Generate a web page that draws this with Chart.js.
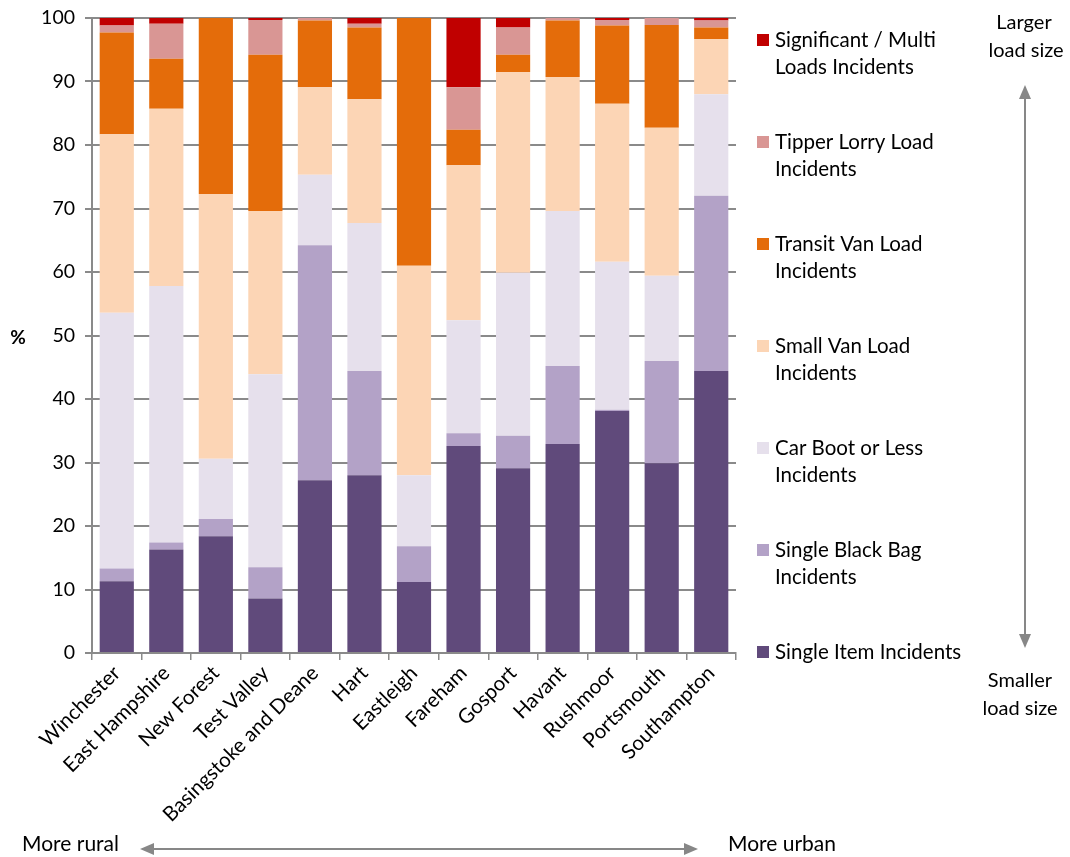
<!DOCTYPE html>
<html>
<head>
<meta charset="utf-8">
<script src="https://cdn.jsdelivr.net/npm/chart.js@4/dist/chart.umd.min.js"></script>
<style>
  html, body { margin: 0; padding: 0; background: #ffffff; }
  #wrap { width: 1070px; height: 857px; }
</style>
</head>
<body>
<div id="wrap"><canvas id="c" width="1070" height="857"></canvas></div>
<script>
// Fly-tipping incidents by load size, share of each district's total (%)
const districts = ['Winchester', 'East Hampshire', 'New Forest', 'Test Valley', 'Basingstoke and Deane',
  'Hart', 'Eastleigh', 'Fareham', 'Gosport', 'Havant', 'Rushmoor', 'Portsmouth', 'Southampton'];

const singleItem     = [11.3, 16.3, 18.4,  8.6, 27.2, 28.0, 11.2, 32.6, 29.1, 32.9, 38.1, 29.9, 44.4];
const singleBlackBag = [ 2.0,  1.1,  2.7,  4.9, 37.0, 16.4,  5.6,  2.0,  5.1, 12.3,  0.2, 16.1, 27.6];
const carBootOrLess  = [40.3, 40.4,  9.5, 30.4, 11.1, 23.3, 11.2, 17.8, 25.7, 24.4, 23.3, 13.4, 16.0];
const smallVanLoad   = [28.1, 27.9, 41.7, 25.7, 13.8, 19.5, 33.0, 24.4, 31.6, 21.1, 24.9, 23.3,  8.7];
const transitVanLoad = [16.0,  7.9, 27.7, 24.6, 10.5, 11.3, 39.0,  5.6,  2.7,  8.9, 12.3, 16.2,  1.8];
const tipperLorry    = [ 1.1,  5.5,  0.0,  5.5,  0.4,  0.6,  0.0,  6.7,  4.3,  0.4,  0.9,  1.1,  1.1];
const significant    = [ 1.2,  0.9,  0.0,  0.3,  0.0,  0.9,  0.0, 10.9,  1.5,  0.0,  0.3,  0.0,  0.4];

const yTicks = [0, 10, 20, 30, 40, 50, 60, 70, 80, 90, 100];

const seriesNames = ['Single Item Incidents', 'Single Black Bag Incidents', 'Car Boot or Less Incidents',
  'Small Van Load Incidents', 'Transit Van Load Incidents', 'Tipper Lorry Load Incidents',
  'Significant / Multi Loads Incidents'];
const seriesValues = [singleItem, singleBlackBag, carBootOrLess, smallVanLoad, transitVanLoad, tipperLorry, significant];
const seriesColors = ['#604a7b', '#b3a2c7', '#e6e0ec', '#fcd5b5', '#e46c0a', '#d99694', '#c00000'];

const FONT = 'Lato, "Open Sans", sans-serif';
const GRID = '#8a8a8a';

function drawArrowHead(ctx, x, y, dx, dy) {
  // dx, dy: unit direction the arrow points to
  const len = 14, half = 6;
  const px = -dy, py = dx;
  ctx.beginPath();
  ctx.moveTo(x, y);
  ctx.lineTo(x - dx * len + px * half, y - dy * len + py * half);
  ctx.lineTo(x - dx * len - px * half, y - dy * len - py * half);
  ctx.closePath();
  ctx.fill();
}

function wrapText(ctx, text, maxWidth) {
  const words = text.split(' ');
  const lines = [];
  let cur = '';
  for (const w of words) {
    const test = cur ? cur + ' ' + w : w;
    if (ctx.measureText(test).width > maxWidth && cur) {
      lines.push(cur);
      cur = w;
    } else {
      cur = test;
    }
  }
  if (cur) lines.push(cur);
  return lines;
}

const extras = {
  id: 'extras',
  afterDraw(chart) {
    const ctx = chart.ctx;
    ctx.save();

    // axis title
    ctx.fillStyle = '#000';
    ctx.font = 'bold 19px ' + FONT;
    ctx.textAlign = 'center';
    ctx.textBaseline = 'middle';
    ctx.fillText('%', 18, 338);

    // legend, top series first
    ctx.font = '20.5px ' + FONT;
    ctx.textAlign = 'left';
    const ds = chart.data.datasets;
    for (let k = 0; k < ds.length; k++) {
      const d = ds[ds.length - 1 - k];
      const y = 40 + k * 102;
      ctx.fillStyle = d.backgroundColor;
      ctx.fillRect(757, y - 6, 12, 12);
      ctx.fillStyle = '#000';
      const lines = wrapText(ctx, d.label, 205);
      lines.forEach((ln, i) => ctx.fillText(ln, 775, y + i * 27));
    }

    // load size annotation
    ctx.font = '20px ' + FONT;
    ctx.textAlign = 'center';
    ctx.fillText('Larger', 1024, 23);
    ctx.fillText('load size', 1026, 51);
    ctx.fillText('Smaller', 1020, 681);
    ctx.fillText('load size', 1020, 709);

    ctx.strokeStyle = '#878787';
    ctx.fillStyle = '#878787';
    ctx.lineWidth = 2;
    ctx.beginPath();
    ctx.moveTo(1025, 96);
    ctx.lineTo(1025, 637);
    ctx.stroke();
    drawArrowHead(ctx, 1025, 85, 0, -1);
    drawArrowHead(ctx, 1025, 648, 0, 1);

    // rural / urban annotation
    ctx.beginPath();
    ctx.moveTo(151, 849);
    ctx.lineTo(687, 849);
    ctx.stroke();
    drawArrowHead(ctx, 140, 849, -1, 0);
    drawArrowHead(ctx, 698, 849, 1, 0);

    ctx.fillStyle = '#000';
    ctx.textAlign = 'left';
    ctx.font = '21px ' + FONT;
    ctx.fillText('More rural', 22, 844);
    ctx.fillText('More urban', 728, 844);

    ctx.restore();
  }
};

new Chart(document.getElementById('c'), {
  type: 'bar',
  data: {
    labels: districts,
    datasets: seriesNames.map((name, i) => ({
      label: name,
      data: seriesValues[i],
      backgroundColor: seriesColors[i],
      borderWidth: 0,
      categoryPercentage: 1.0,
      barPercentage: 0.69
    }))
  },
  options: {
    responsive: false,
    animation: false,
    events: [],
    layout: { padding: { top: 18, right: 334, left: 0, bottom: 0 } },
    plugins: {
      legend: { display: false },
      tooltip: { enabled: false },
      title: { display: false }
    },
    scales: {
      x: {
        stacked: true,
        grid: { offset: true, drawOnChartArea: false, drawTicks: true, tickLength: 7, color: GRID, lineWidth: 1.5 },
        border: { display: true, color: GRID, width: 2 },
        ticks: {
          color: '#000',
          font: { family: FONT, size: 20.5 },
          minRotation: 45,
          maxRotation: 45,
          autoSkip: false,
          padding: 1
        },
        afterFit(scale) { scale.height = 204; }
      },
      y: {
        stacked: true,
        min: 0,
        max: 100,
        afterBuildTicks(scale) { scale.ticks = yTicks.map(v => ({ value: v })); },
        ticks: {
          color: '#000',
          font: { family: FONT, size: 19.5, lineHeight: 0.8 },
          padding: 10
        },
        grid: { color: GRID, lineWidth: 2, tickLength: 7, drawTicks: true },
        border: { display: true, color: GRID, width: 2 },
        afterFit(scale) { scale.width = 92; }
      }
    }
  },
  plugins: [extras]
});
</script>
</body>
</html>
